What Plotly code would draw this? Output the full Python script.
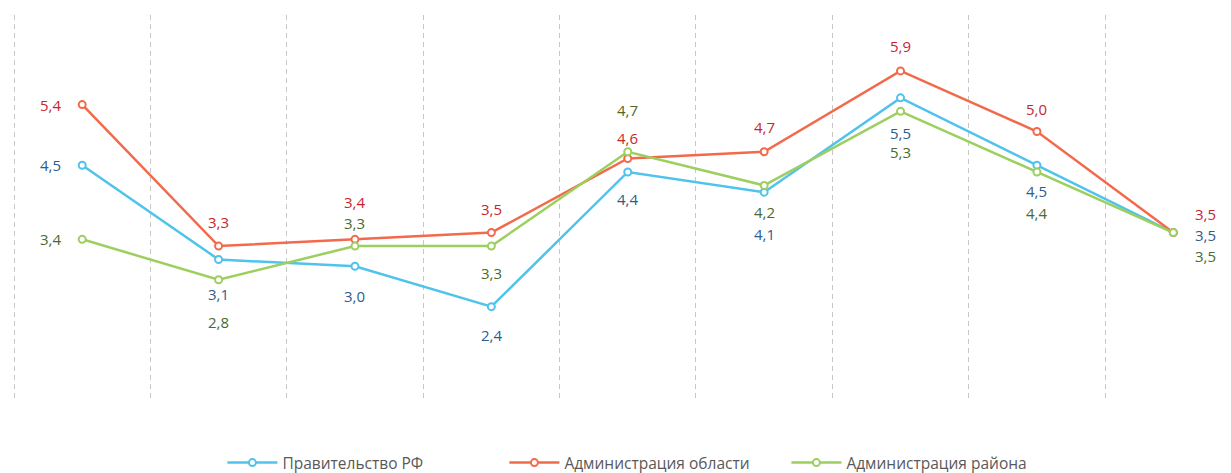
import plotly.graph_objects as go

# Data
series_names = ["Правительство РФ", "Администрация области", "Администрация района"]
gov_rf = [4.5, 3.1, 3.0, 2.4, 4.4, 4.1, 5.5, 4.5, 3.5]
adm_obl = [5.4, 3.3, 3.4, 3.5, 4.6, 4.7, 5.9, 5.0, 3.5]
adm_rayon = [3.4, 2.8, 3.3, 3.3, 4.7, 4.2, 5.3, 4.4, 3.5]
categories = list(range(len(gov_rf)))

# Styles
line_colors = ["#4FC3EC", "#F26A4B", "#9CCF5E"]
label_colors = ["#2E5C8C", "#C8262F", "#4B6A2B"]

# label pixel offsets (xshift, yshift) per series per point
label_offsets = [
    [(-32, 0), (0, -34), (0, -30), (0, -28), (0, -27), (0, -42), (0, -35), (0, -26), (32, -2)],
    [(-32, 0), (0, 24), (0, 37), (0, 24), (0, 20), (0, 25), (0, 25), (0, 23), (32, 19)],
    [(-32, 0), (0, -42), (0, 23), (0, -27), (0, 42), (0, -27), (0, -41), (0, -41), (32, -23)],
]

all_series = [gov_rf, adm_obl, adm_rayon]

fig = go.Figure()
annotations = []
for name, vals, lc, tc, offs in zip(series_names, all_series, line_colors, label_colors, label_offsets):
    fig.add_trace(go.Scatter(
        x=categories, y=vals, name=name, mode="lines+markers",
        line=dict(color=lc, width=2.5),
        marker=dict(symbol="circle", size=7, color="white", line=dict(color=lc, width=2)),
        cliponaxis=False,
    ))
    for xi, v, (dx, dy) in zip(categories, vals, offs):
        annotations.append(dict(
            x=xi, y=v, xref="x", yref="y", text=f"{v:.1f}".replace(".", ","),
            showarrow=False, xshift=dx, yshift=dy,
            font=dict(family="Open Sans", size=15, color=tc),
        ))

fig.update_layout(
    width=1231, height=473,
    margin=dict(l=11, r=0, t=15, b=72, autoexpand=False),
    paper_bgcolor="white", plot_bgcolor="white",
    font=dict(family="Open Sans", size=14, color="#595959"),
    annotations=annotations,
    showlegend=True,
    legend=dict(orientation="h", x=0.52, xanchor="center", y=-0.1606, yanchor="middle",
                font=dict(family="Open Sans", size=15.5, color="#595959"),
                itemwidth=50, entrywidth=217, entrywidthmode="pixels"),
    xaxis=dict(range=[-0.522, 8.423], tickvals=[i - 0.5 for i in categories],
               showticklabels=False, showgrid=True, gridcolor="#C8C8C8", gridwidth=1,
               griddash="5px,4px", zeroline=False, showline=False, ticks=""),
    yaxis=dict(range=[1, 6.73], showgrid=False, showticklabels=False, zeroline=False,
               showline=False, ticks=""),
)

fig.write_html("out.html")
